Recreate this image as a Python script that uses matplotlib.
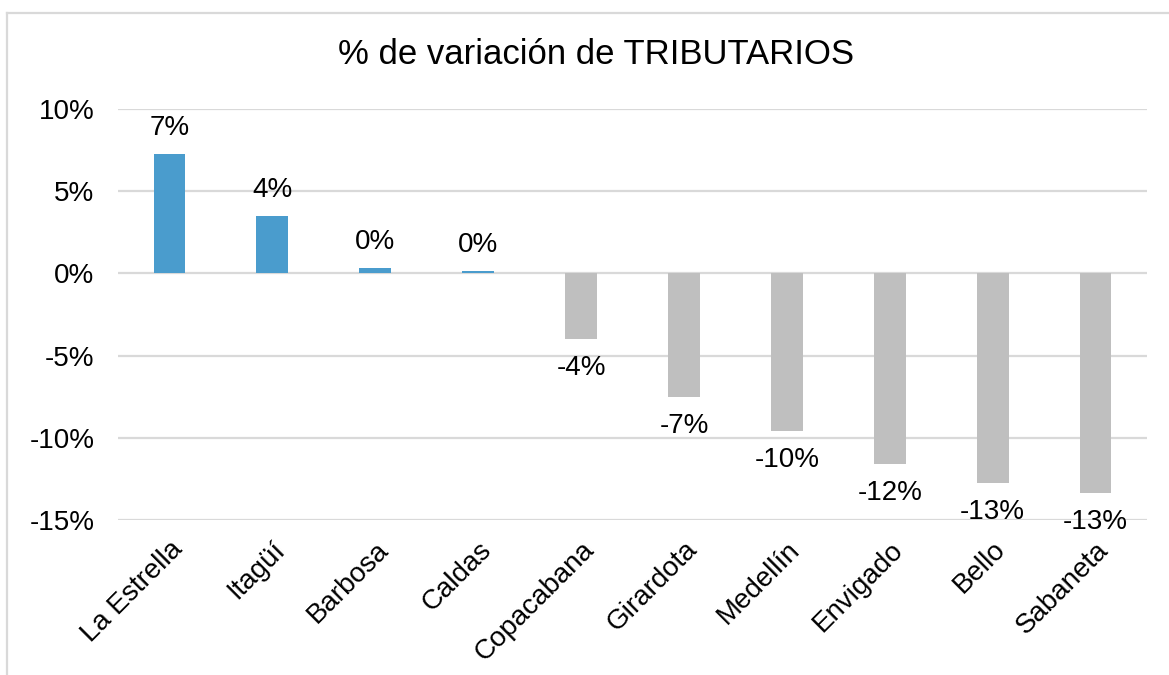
import matplotlib
matplotlib.use("Agg")
import matplotlib.pyplot as plt
from matplotlib.lines import Line2D
from matplotlib.ticker import FuncFormatter

plt.rcParams['font.family'] = ['Liberation Sans', 'DejaVu Sans']

categories = ["La Estrella", "Itagüí", "Barbosa", "Caldas", "Copacabana",
              "Girardota", "Medellín", "Envigado", "Bello", "Sabaneta"]
values = [7.26, 3.49, 0.30, 0.14, -4.01, -7.49, -9.58, -11.6, -12.72, -13.33]
labels = ["7%", "4%", "0%", "0%", "-4%", "-7%", "-10%", "-12%", "-13%", "-13%"]
title = "% de variación de TRIBUTARIOS"
yticks = [-15, -10, -5, 0, 5, 10]

blue = "#4A9CCD"
gray = "#BFBFBF"
grid_c = "#D9D9D9"

fig = plt.figure(figsize=(11.69, 6.75), dpi=100)
ax = fig.add_axes([118/1169, 1 - 520/675, (1147-118)/1169, (520-109)/675])

x = list(range(len(categories)))
colors = [blue if v >= 0 else gray for v in values]
ax.bar(x, values, width=0.31, color=colors, zorder=3)

ax.set_ylim(-15, 10)
ax.set_xlim(-0.5, len(categories) - 0.5)
ax.set_yticks(yticks)
ax.yaxis.set_major_formatter(FuncFormatter(lambda v, p: f"{int(v)}%"))
ax.grid(axis='y', color=grid_c, linewidth=1.6, zorder=0)
for s in ax.spines.values():
    s.set_visible(False)
ax.tick_params(axis='y', length=0, pad=17, labelsize=20)
ax.tick_params(axis='x', length=0, pad=12, labelsize=20)
ax.set_xticks(x)
ax.set_xticklabels(categories, rotation=45, ha='right', rotation_mode='anchor')
for t in ax.get_xticklabels():
    t.set_x(t.get_position()[0])

for xi, v, lab in zip(x, values, labels):
    off = 19 if v >= 0 else -21
    ax.annotate(lab, (xi, v), xytext=(0, off), textcoords='offset points',
                ha='center', va='center', fontsize=20, zorder=4)

fig.text(596/1169, 1 - 55/675, title, ha='center', va='center', fontsize=25)

# chart border (left and top visible)
fig.add_artist(Line2D([7/1169, 7/1169], [0, 1 - 13/675], color=grid_c, lw=1.6,
                      transform=fig.transFigure))
fig.add_artist(Line2D([7/1169, 1], [1 - 13/675, 1 - 13/675], color=grid_c, lw=1.6,
                      transform=fig.transFigure))

fig.savefig("out.png", dpi=100)
